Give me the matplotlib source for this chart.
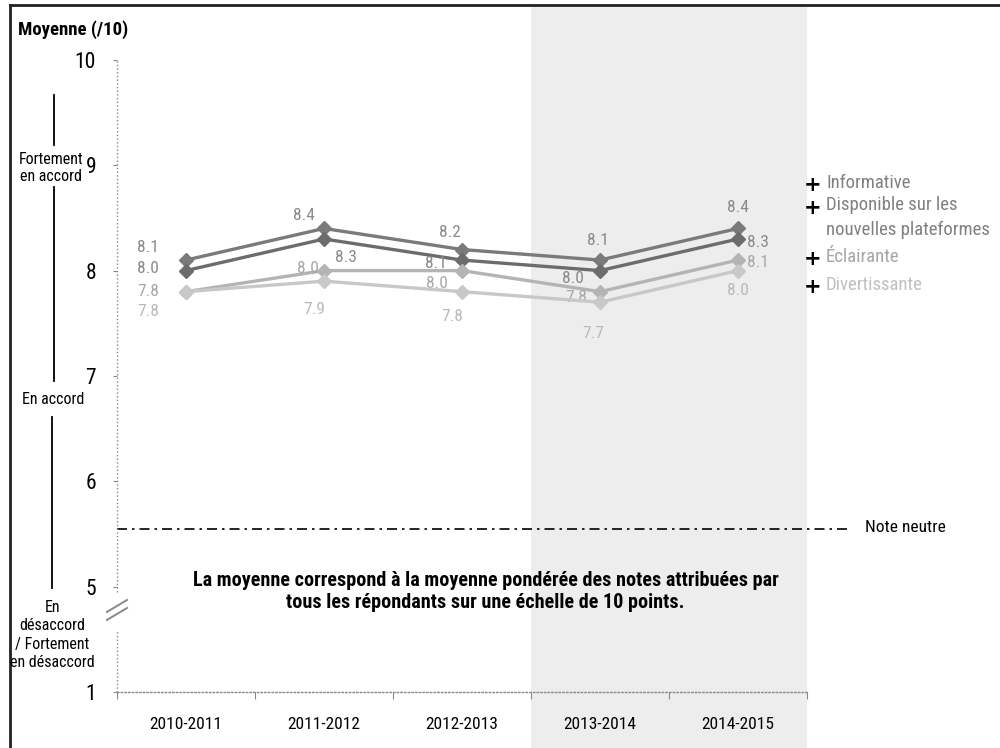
import matplotlib
matplotlib.use("Agg")
import matplotlib.pyplot as plt
from matplotlib.lines import Line2D
from matplotlib.transforms import blended_transform_factory

POLICE = ['Roboto Condensed', 'Liberation Sans', 'DejaVu Sans']
plt.rcParams['font.family'] = POLICE

annees = ["2010-2011", "2011-2012", "2012-2013", "2013-2014", "2014-2015"]
series = ["Informative", "Disponible sur les\nnouvelles plateformes", "Éclairante", "Divertissante"]
informative = [8.1, 8.4, 8.2, 8.1, 8.4]
disponible = [8.0, 8.3, 8.1, 8.0, 8.3]
eclairante = [7.8, 8.0, 8.0, 7.8, 8.1]
divertissante = [7.8, 7.9, 7.8, 7.7, 8.0]
note_neutre = 5.55

valeurs = [informative, disponible, eclairante, divertissante]
couleurs = ["#7a7a7a", "#6c6c6c", "#b4b4b4", "#c8c8c8"]
couleurs_texte = ["#8a8a8a", "#8a8a8a", "#a8a8a8", "#bababa"]
couleurs_legende = ["#808080", "#808080", "#a6a6a6", "#c0c0c0"]

# décalages des étiquettes (pixels) par série et par année
decalages = [
    [(-38, 13), (-20, 13), (-12, 17), (-2, 20), (0, 21)],
    [(-38, 2), (22, -19), (-26, -3), (-27, -8), (20, -4)],
    [(-38, 0), (-16, 2), (-25, -13), (-24, -6), (20, -2)],
    [(-38, -20), (-10, -28), (-10, -25), (-7, -31), (0, -20)],
]


def echelle(v):
    # axe coupé : 1 -> 4, puis 5..10 linéaire
    return v if v >= 5 else 4 + (v - 1) / 4


fig = plt.figure(figsize=(10, 7.48), dpi=100)
ax = fig.add_axes([0.117, 0.0749, 0.69, 0.845])
ax.set_zorder(1)
ax.set_facecolor("none")
x = list(range(len(annees)))

# zone grisée des deux dernières années
trans = blended_transform_factory(ax.transData, fig.transFigure)
fig.patches.append(plt.Rectangle((2.5, 0), 2.0, 0.992, transform=trans,
                                 facecolor="#ededed", edgecolor="none", zorder=0))

for vals, c, ct, dec in zip(valeurs, couleurs, couleurs_texte, decalages):
    ax.plot(x, [echelle(v) for v in vals], color=c, lw=2.4, marker="D",
            markersize=7.5, markerfacecolor=c, markeredgecolor=c, zorder=3)
    for xi, v, (dx, dy) in zip(x, vals, dec):
        ax.annotate(f"{v:.1f}", (xi, echelle(v)), xytext=(dx, dy),
                    textcoords="offset pixels", ha="center", va="center",
                    fontsize=12.5, color=ct)

# ligne de note neutre
ax.plot([-0.5, 4.81], [note_neutre, note_neutre], color="black", lw=1.2,
        ls=(0, (6, 3, 1.5, 3)), clip_on=False, zorder=2)
fig.text(0.865, 1 - 528 / 748, "Note neutre", fontsize=12.5, va="center")

ax.text(2.17, 4.95, "La moyenne correspond à la moyenne pondérée des notes attribuées par\n"
        "tous les répondants sur une échelle de 10 points.",
        ha="center", va="center", fontsize=14.5, fontweight="bold", linespacing=1.2)

ax.set_xlim(-0.5, 4.5)
ax.set_ylim(4, 10)
ax.set_yticks([4, 5, 6, 7, 8, 9, 10])
ax.set_yticklabels(["1", "5", "6", "7", "8", "9", "10"])
ax.set_xticks(x)
ax.set_xticklabels(annees)
ax.set_xticks([i - 0.5 for i in range(len(annees) + 1)], minor=True)
ax.tick_params(axis="x", which="major", length=0, pad=18, labelsize=12.5)
ax.tick_params(axis="x", which="minor", length=5, color="#888888", width=0.8)
ax.tick_params(axis="y", length=3, color="#888888", width=0.8, labelsize=15.5, pad=12)

for s in ["top", "right", "left"]:
    ax.spines[s].set_visible(False)
ax.spines["bottom"].set_color("#888888")
ax.spines["bottom"].set_linestyle(":")
ax.spines["bottom"].set_linewidth(1)

# axe vertical avec coupure
axe_y = dict(color="#888888", lw=1, ls=":", clip_on=False, zorder=2)
ax.plot([-0.5, -0.5], [4.95, 10], **axe_y)
ax.plot([-0.5, -0.5], [4, 4.59], **axe_y)
tx = blended_transform_factory(ax.transAxes, ax.transData)
for y0 in (0, -0.076):
    ax.plot([-0.0145, 0.0145], [4.76 + y0, 4.873 + y0], color="#888888", lw=1.4,
            transform=tx, clip_on=False)

# titre
fig.text(0.018, 1 - 30 / 748, "Moyenne (/10)", fontsize=13.5, fontweight="bold", va="center")

# repères de l'échelle à gauche
fig.add_artist(Line2D([0.054, 0.054], [1 - 95 / 748, 1 - 145 / 748], color="black", lw=1.3))
fig.add_artist(Line2D([0.054, 0.054], [1 - 187 / 748, 1 - 381 / 748], color="black", lw=1.3))
fig.add_artist(Line2D([0.052, 0.052], [1 - 417 / 748, 1 - 588 / 748], color="black", lw=1.3))
fig.text(0.051, 1 - 168 / 748, "Fortement\nen accord", ha="center", va="center", fontsize=11.5)
fig.text(0.053, 1 - 400 / 748, "En accord", ha="center", va="center", fontsize=11.5)
fig.text(0.052, 1 - 635 / 748, "En\ndésaccord\n/ Fortement\nen désaccord",
         ha="center", va="center", fontsize=11.5, linespacing=1.3)

# légende
leg_y = [185, 208, 259, 287]
for lab, c, yy in zip(series, couleurs_legende, leg_y):
    fig.text(0.813, 1 - yy / 748, "+", fontsize=15, fontweight="bold", ha="center",
             va="center", family="DejaVu Sans")
    fig.text(0.826, 1 - (yy - 2) / 748 + (0.014 if "\n" in lab else 0), lab,
             fontsize=13.5, color=c, ha="left",
             va="top" if "\n" in lab else "center", linespacing=1.5)

# cadre
fig.add_artist(Line2D([0.01, 1], [0.993, 0.993], color="#222222", lw=2))
fig.add_artist(Line2D([0.01, 0.01], [0, 0.993], color="#222222", lw=2))

fig.savefig("out.png", dpi=100, facecolor="white")
